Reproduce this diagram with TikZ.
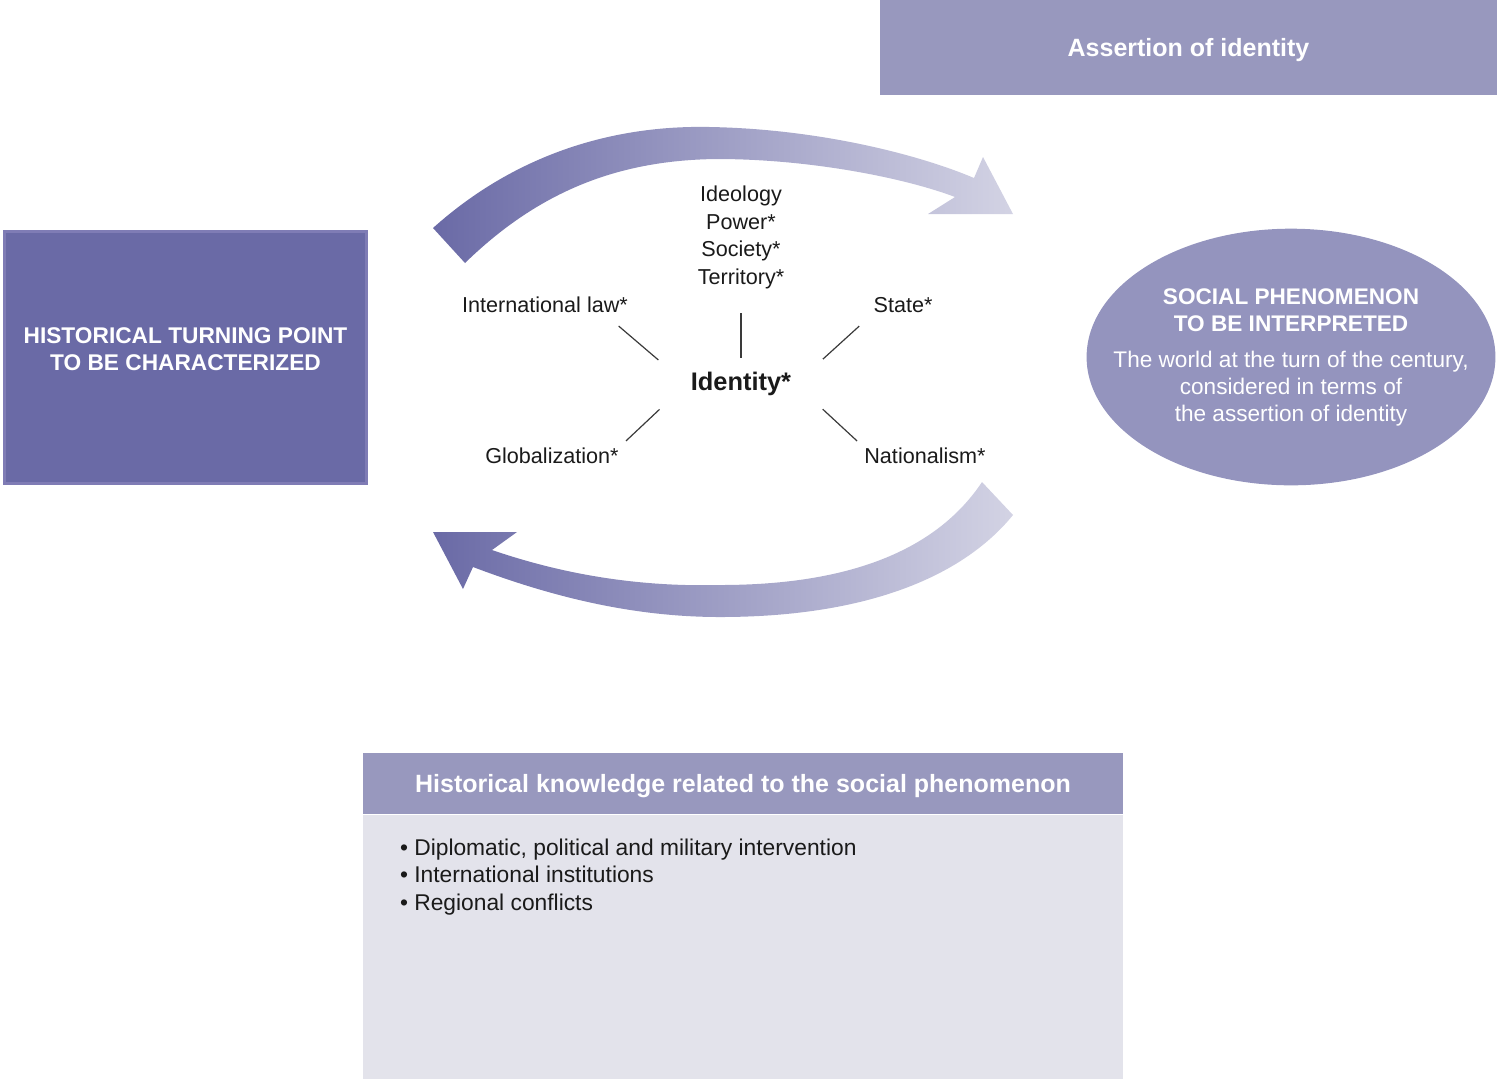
\documentclass[tikz,border=0pt]{standalone}
\usepackage{fontspec}
\setmainfont{Liberation Sans}
\usetikzlibrary{shapes.geometric,positioning}

\definecolor{deepviolet}{HTML}{6A6AA6}
\definecolor{softviolet}{HTML}{9898BE}
\definecolor{ovalviolet}{HTML}{9494BE}
\definecolor{paleviolet}{HTML}{E3E3EB}
\definecolor{fadeviolet}{HTML}{D3D3E4}
\definecolor{bevelviolet}{HTML}{7F7CB5}
\definecolor{spokegray}{HTML}{3A3A3A}
\definecolor{inkgray}{HTML}{1A1A1A}

\begin{document}
\begin{tikzpicture}[x=0.5pt,y=-0.5pt,
		spoke/.style={draw=spokegray,line width=0.6pt,shorten <=18.5pt,shorten >=6.7pt},
		concept/.style={text=inkgray,font=\fontsize{10.8}{13.75}\selectfont,inner sep=2pt,align=center}]
	\tikzstyle{titlebar}=[fill=softviolet,text=white,font=\bfseries\fontsize{12.5}{15}\selectfont,inner sep=0pt,text depth=0pt]
	\useasboundingbox (0,0) rectangle (1497,1078);

	% boxes
	\node[titlebar,minimum width=308.5pt,minimum height=47.5pt] (assertion) at (1188.5,47.5) {Assertion of identity};
	\node[fill=deepviolet,draw=bevelviolet,line width=1.5pt,minimum width=181pt,minimum height=126pt,
		label={[text=white,font=\bfseries\fontsize{11.35}{13.5}\selectfont,align=center,yshift=4pt]center:%
		HISTORICAL TURNING POINT\\TO BE CHARACTERIZED}] (turning) at (185.5,357.5) {};
	\node[ellipse,fill=ovalviolet,inner xsep=-16.5pt,inner ysep=11pt,
		text=white,font=\fontsize{11.3}{13.5}\selectfont,align=center] (phenomenon) at (1291,357)
		{\textbf{SOCIAL PHENOMENON}\\\textbf{TO BE INTERPRETED}\\[4.5pt]
		The world at the turn of the century,\\considered in terms of\\the assertion of identity};
	\node[titlebar,minimum width=380pt,minimum height=30.5pt] (header) at (743,783.5)
		{Historical knowledge related to the social phenomenon};
	\node[fill=paleviolet,minimum width=380pt,minimum height=132pt,inner sep=0pt,below=0pt of header] (knowbody) {};
	\node[text=inkgray,font=\fontsize{11.4}{13.75}\selectfont,align=left,inner sep=2pt,
		below right=10pt and 16.5pt of header.south west] (facts)
		{\textbullet{} Diplomatic, political and military intervention\\
		\textbullet{} International institutions\\
		\textbullet{} Regional conflicts};

	% big arrows
	\shade[left color=deepviolet,right color=fadeviolet]
		(433,228) .. controls (520,150) and (620,125) .. (710,127)
		.. controls (820,129) and (920,155) .. (974,178)
		-- (983,157) -- (1013,214) -- (928,214) -- (955,197)
		.. controls (905,178) and (810,159) .. (717,159)
		.. controls (620,160) and (540,190) .. (465,263) -- cycle;
	\shade[left color=deepviolet,right color=fadeviolet]
		(982,482) .. controls (930,560) and (830,585) .. (720,585)
		.. controls (640,587) and (565,575) .. (492,550)
		-- (517,532) -- (433,532) -- (463,589) -- (473,567)
		.. controls (560,600) and (640,617) .. (720,617)
		.. controls (860,617) and (960,580) .. (1013,515) -- cycle;

	% identity and its facets
	\node[concept,font=\bfseries\fontsize{12.7}{15}\selectfont] (identity) at (741,384) {Identity*};
	\node[concept] (facets) at (741,237.5) {Ideology\\Power*\\Society*\\Territory*};
	\node[concept] (intlaw) at (545,305) {International law*};
	\node[concept] (state) at (903,305) {State*};
	\node[concept] (global) at (552,456) {Globalization*};
	\node[concept] (nation) at (925,456) {Nationalism*};

	\draw[spoke,shorten <=5pt,shorten >=10pt] (identity.north) -- (facets.south);
	\draw[spoke] (identity.west) -- (intlaw.-11);
	\draw[spoke] (identity.east) -- (state.south west);
	\draw[spoke,shorten >=2pt] (identity.west) -- (global.north east);
	\draw[spoke,shorten >=2pt] (identity.east) -- (nation.north west);
\end{tikzpicture}
\end{document}
